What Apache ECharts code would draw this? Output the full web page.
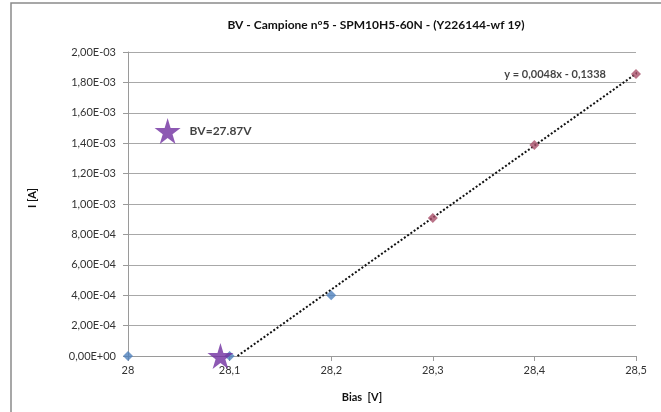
<!DOCTYPE html>
<html>
<head>
<meta charset="utf-8">
<script src="https://cdn.jsdelivr.net/npm/echarts@6/dist/echarts.min.js"></script>
<style>html,body{margin:0;padding:0;background:#fff}#c{width:661px;height:412px}</style>
</head>
<body>
<div id="c"></div>
<script>
var titleText = 'BV - Campione n°5 - SPM10H5-60N - (Y226144-wf 19)';
var xTitle = 'Bias  [V]';
var yTitle = 'I [A]';
var blueX = [28.0, 28.1, 28.2];
var blueY = [0, 0, 4.0e-4];
var redX = [28.3, 28.4, 28.5];
var redY = [9.08e-4, 1.388e-3, 1.855e-3];
var trendEndX = 28.511;
var bvStar = [28.091, 0];
var bvLabelStar = [28.039, 1.48e-3];
var bvLabel = 'BV=27.87V';
var equation = 'y = 0,0048x - 0,1338';

var font = 'Lato, "Open Sans", sans-serif';
var starPath = 'path://M50,0 L61,35 L98,35 L68,57 L79,91 L50,70 L21,91 L32,57 L2,35 L39,35 Z';

function yFmt(v){
  if (Math.abs(v) < 1e-12) return '0,00E+00';
  var p = v.toExponential(2).split('e');
  var e = parseInt(p[1], 10);
  return p[0].replace('.', ',') + 'E' + (e < 0 ? '-' : '+') + String(Math.abs(e)).padStart(2, '0');
}
function xFmt(v){
  return String(Math.round(v * 10) / 10).replace('.', ',');
}

// linear fit of red points for the trendline
var n = redX.length, sx = 0, sy = 0, sxx = 0, sxy = 0;
for (var i = 0; i < n; i++) { sx += redX[i]; sy += redY[i]; sxx += redX[i]*redX[i]; sxy += redX[i]*redY[i]; }
var slope = (n*sxy - sx*sy) / (n*sxx - sx*sx);
var icpt = (sy - slope*sx) / n;
var x0 = -icpt / slope;
var trend = [[x0, 0], [trendEndX, slope*trendEndX + icpt]];

var chart = echarts.init(document.getElementById('c'), null, {renderer: 'canvas'});
chart.setOption({
  animation: false,
  backgroundColor: '#fff',
  title: {
    text: titleText, left: 371, top: 14, textAlign: 'center',
    textStyle: {fontFamily: font, fontSize: 12, fontWeight: 'bold', color: '#111'}
  },
  graphic: [
    {type: 'rect', shape: {x: 11, y: 3, width: 720, height: 460}, style: {fill: 'none', stroke: '#8a8a8a', lineWidth: 1.5}, z: 0}
  ],
  grid: {left: 128, right: 25, top: 52, bottom: 56},
  xAxis: {
    type: 'value', min: 28, max: 28.5, interval: 0.1,
    name: xTitle, nameLocation: 'middle', nameGap: 36,
    nameTextStyle: {fontFamily: font, fontSize: 11, fontWeight: 'bold', color: '#111', padding: [0, 40, 0, 0]},
    axisLine: {show: true, onZero: false, lineStyle: {color: '#9a9a9a', width: 1}},
    axisTick: {show: true, length: 5, lineStyle: {color: '#9a9a9a'}},
    axisLabel: {formatter: xFmt, fontFamily: font, fontSize: 11, color: '#333', margin: 9},
    splitLine: {show: false}
  },
  yAxis: {
    type: 'value', min: 0, max: 2e-3, interval: 2e-4,
    name: yTitle, nameLocation: 'middle', nameGap: 90, nameRotate: 90,
    nameTextStyle: {fontFamily: font, fontSize: 11, fontWeight: 'bold', color: '#111', padding: [0, 0, 0, 12]},
    axisLine: {show: true, lineStyle: {color: '#9a9a9a', width: 1}},
    axisTick: {show: true, length: 5, lineStyle: {color: '#9a9a9a'}},
    axisLabel: {formatter: yFmt, fontFamily: font, fontSize: 11, color: '#333', margin: 12},
    splitLine: {show: true, lineStyle: {color: '#a8a8a8', width: 1}}
  },
  series: [
    {
      type: 'line', data: trend, showSymbol: false, symbol: 'none', clip: false,
      lineStyle: {color: '#111', width: 2, type: [2, 2]}, z: 3
    },
    {
      type: 'scatter', data: blueX.map(function(x, i){ return [x, blueY[i]]; }),
      symbol: 'diamond', symbolSize: 10, itemStyle: {color: '#4F81BD'}, z: 4
    },
    {
      type: 'scatter', data: redX.map(function(x, i){
        return {value: [x, redY[i]], label: {show: i === n - 1}};
      }),
      label: {position: 'left', distance: 25, formatter: equation,
        fontFamily: font, fontSize: 11, fontWeight: 'bold', color: '#111'},
      symbol: 'diamond', symbolSize: 10, itemStyle: {color: '#A9506A'}, z: 4, clip: false
    },
    {
      type: 'scatter', data: [bvStar], symbol: starPath, symbolSize: 26,
      itemStyle: {color: '#7030A0'}, z: 5, clip: false
    },
    {
      type: 'scatter', data: [{value: bvLabelStar, label: {show: true}}],
      label: {position: 'right', distance: 9, formatter: bvLabel,
        fontFamily: font, fontSize: 12, fontWeight: 'bold', color: '#111'},
      symbol: starPath, symbolSize: 26, itemStyle: {color: '#7030A0'}, z: 5
    }
  ]
});
</script>
</body>
</html>
